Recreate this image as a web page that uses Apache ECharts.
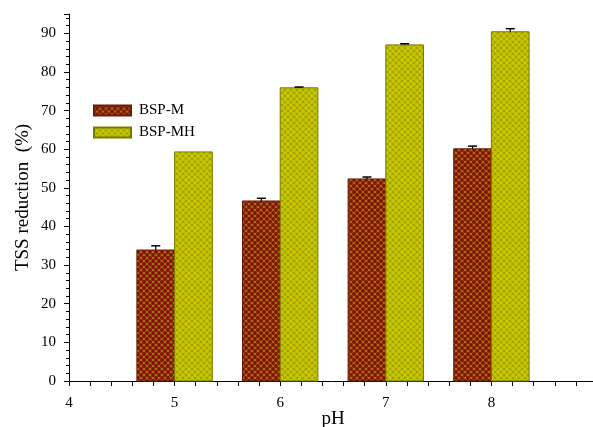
<!DOCTYPE html>
<html>
<head>
<meta charset="utf-8">
<script src="https://cdn.jsdelivr.net/npm/echarts@6/dist/echarts.min.js"></script>
<style>html,body{margin:0;padding:0;background:#fff}#c{width:593px;height:427px}</style>
</head>
<body>
<div id="c"></div>
<script>
var phValues = [5, 6, 7, 8];
var bspM = [33.9, 46.6, 52.3, 60.1];
var bspMErr = [1.1, 0.7, 0.5, 0.7];
var bspMH = [59.3, 75.9, 87.0, 90.4];
var bspMHErr = [null, 0.2, 0.3, 0.8];
var seriesNames = ['BSP-M', 'BSP-MH'];

function makePattern(base, dot) {
  var c = document.createElement('canvas');
  c.width = 6; c.height = 6;
  var g = c.getContext('2d');
  g.fillStyle = base; g.fillRect(0, 0, 6, 6);
  g.fillStyle = dot;
  var pts = [[0,0],[6,0],[0,6],[6,6],[3,3]];
  pts.forEach(function(p){ g.beginPath(); g.arc(p[0], p[1], 1.9, 0, Math.PI*2); g.fill(); });
  return {image: c, repeat: 'repeat'};
}
var patM = makePattern('#9c7410', '#880c08');
var patMH = makePattern('#a2a000', '#c8c800');

var barW = 0.357;
function render(offsetSign, errs, border) {
  return function(params, api) {
    var x = api.value(0), y = api.value(1);
    var x0 = offsetSign < 0 ? x - barW : x;
    var x1 = offsetSign < 0 ? x : x + barW;
    var p0 = api.coord([x0, y]);
    var p1 = api.coord([x1, 0]);
    var children = [{
      type: 'rect',
      shape: {x: p0[0], y: p0[1], width: p1[0] - p0[0], height: p1[1] - p0[1]},
      style: {fill: offsetSign < 0 ? patM : patMH, stroke: border, lineWidth: 1}
    }];
    var e = errs[params.dataIndex];
    if (e) {
      var cx = (p0[0] + p1[0]) / 2;
      var pt = api.coord([x, y + e]);
      children.push({type: 'line', shape: {x1: cx, y1: p0[1], x2: cx, y2: pt[1]}, style: {stroke: '#000', lineWidth: 1.2}});
      children.push({type: 'line', shape: {x1: cx - 4.5, y1: pt[1], x2: cx + 4.5, y2: pt[1]}, style: {stroke: '#000', lineWidth: 1.5}});
    }
    return {type: 'group', children: children};
  };
}

var chart = echarts.init(document.getElementById('c'), null, {renderer: 'canvas'});
var font = 'Liberation Serif';
chart.setOption({
  animation: false,
  grid: {left: 69, top: 14, width: 528, height: 367, outerBoundsMode: 'none', containLabel: false},
  legend: {
    orient: 'vertical', left: 93, top: 103, padding: 0, itemWidth: 37, itemHeight: 10, itemGap: 7,
    icon: 'rect',
    textStyle: {fontFamily: font, fontSize: 15, color: '#000', padding: [0, 0, 0, 3]},
    data: seriesNames
  },
  xAxis: {
    type: 'value', min: 4, max: 9, interval: 1,
    name: 'pH', nameLocation: 'middle', nameGap: 29, nameMoveOverlap: false,
    nameTextStyle: {fontFamily: font, fontSize: 19, color: '#000'},
    axisLine: {show: true, lineStyle: {color: '#000', width: 1}},
    axisTick: {show: true, inside: false, length: 5, lineStyle: {color: '#000'}},
    minorTick: {show: true, splitNumber: 5, length: 5, lineStyle: {color: '#000'}},
    axisLabel: {fontFamily: font, fontSize: 15, color: '#000', margin: 15},
    splitLine: {show: false}
  },
  yAxis: {
    type: 'value', min: 0, max: 95, interval: 10,
    name: 'TSS reduction  (%)', nameLocation: 'middle', nameGap: 36, nameMoveOverlap: false,
    nameTextStyle: {fontFamily: font, fontSize: 19, color: '#000'},
    axisLine: {show: true, lineStyle: {color: '#000', width: 1}},
    axisTick: {show: true, length: 5, lineStyle: {color: '#000'}},
    minorTick: {show: true, splitNumber: 5, length: 3, lineStyle: {color: '#000'}},
    axisLabel: {fontFamily: font, fontSize: 15, color: '#000', margin: 13,
      formatter: function(v){ return v % 10 === 0 ? String(v) : ''; }},
    splitLine: {show: false}
  },
  series: [
    {
      name: seriesNames[0], type: 'custom',
      itemStyle: {color: patM, borderColor: '#6a1a08', borderWidth: 1},
      renderItem: render(-1, bspMErr, '#6a1a08'),
      encode: {x: 0, y: 1},
      data: phValues.map(function(p, i){ return [p, bspM[i]]; })
    },
    {
      name: seriesNames[1], type: 'custom',
      itemStyle: {color: patMH, borderColor: '#7a7a00', borderWidth: 1},
      renderItem: render(1, bspMHErr, '#7a7a00'),
      encode: {x: 0, y: 1},
      data: phValues.map(function(p, i){ return [p, bspMH[i]]; })
    }
  ]
});
</script>
</body>
</html>
